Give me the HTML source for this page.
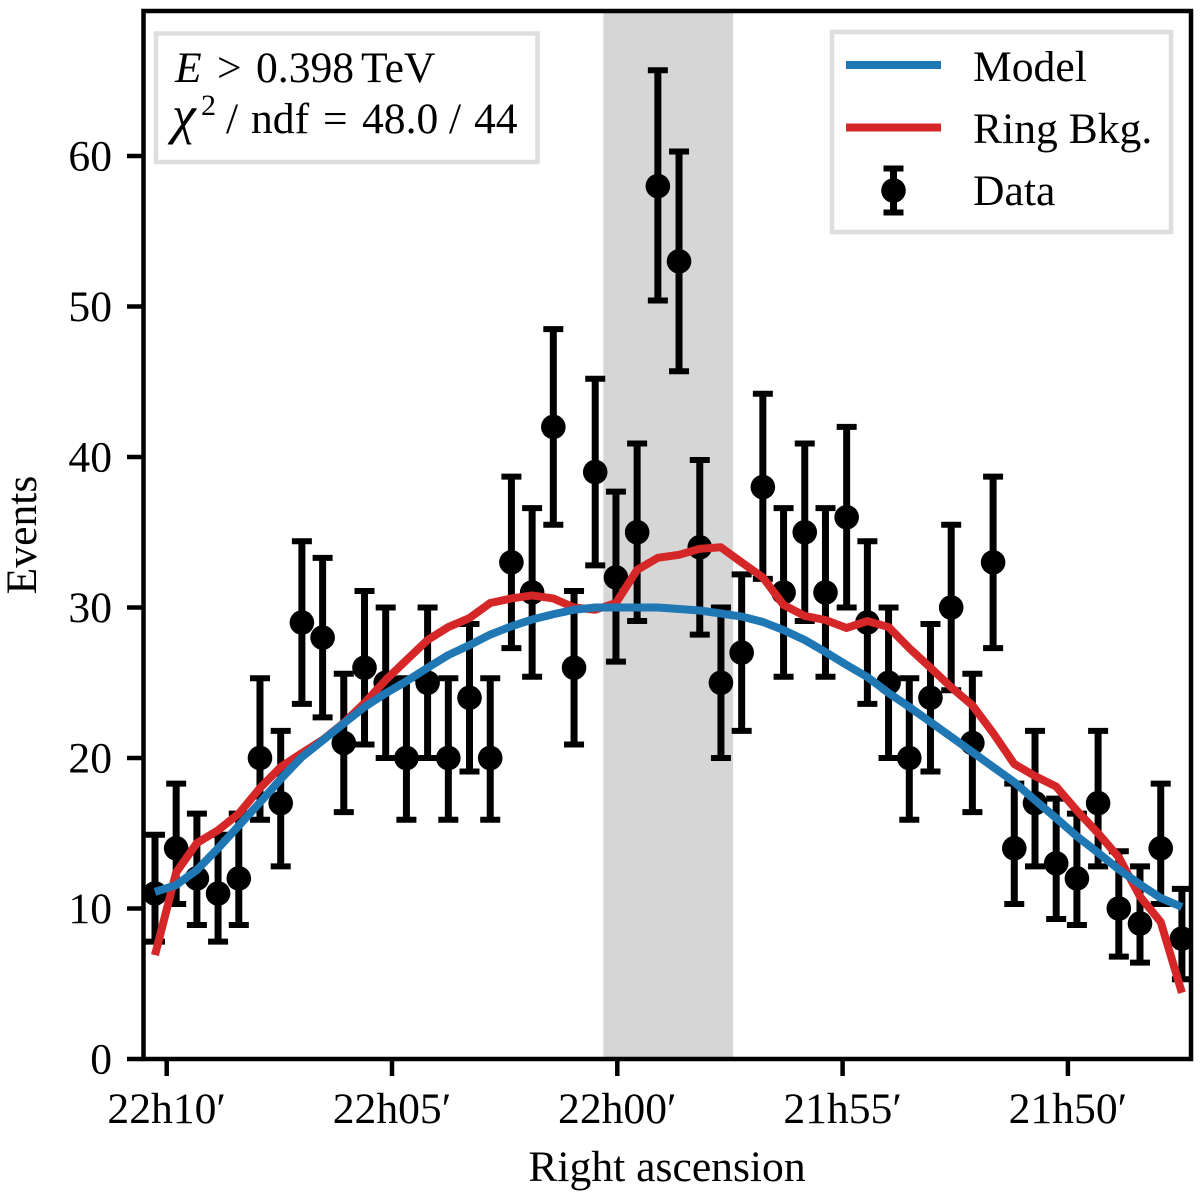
<!DOCTYPE html>
<html>
<head>
<meta charset="utf-8">
<style>
html,body{margin:0;padding:0;background:#fff;width:1200px;height:1199px;overflow:hidden}
svg{display:block}
text{font-family:"Liberation Serif",serif;font-size:43.6px;fill:#000}
</style>
</head>
<body>
<svg id="chart" xmlns="http://www.w3.org/2000/svg" width="1200" height="1199" viewBox="0 0 1200 1199">
  <defs>
    <clipPath id="plot-clip"><rect x="143.5" y="11" width="1047.5" height="1048"/></clipPath>
  </defs>
  <g id="band-layer"></g>
  <g id="marks" clip-path="url(#plot-clip)"></g>
  <g id="axes"></g>
  <rect x="143.5" y="11" width="1047.5" height="1048" fill="none" stroke="#000" stroke-width="4.500"/>

  <g>
    <rect x="156" y="33.500" width="381.500" height="128.500" fill="#fff" stroke="#dedede" stroke-width="4.500"/>
    <text y="82"><tspan x="175" font-style="italic">E</tspan><tspan x="217">&gt;</tspan><tspan x="256">0.398</tspan><tspan x="361">TeV</tspan></text>
    <text y="133"><tspan x="172" font-style="italic" font-size="54">χ</tspan><tspan x="201" dy="-18" font-size="30">2</tspan><tspan x="226" dy="18">/</tspan><tspan x="251">ndf</tspan><tspan x="323">=</tspan><tspan x="362">48.0</tspan><tspan x="449">/</tspan><tspan x="474">44</tspan></text>
  </g>

  <g>
    <rect x="832" y="32" width="339" height="200" fill="#fff" stroke="#dedede" stroke-width="4.500"/>
    <line x1="846" y1="65" x2="941" y2="65" stroke="#1f77b4" stroke-width="8"/>
    <text x="973" y="81">Model</text>
    <line x1="846" y1="127.500" x2="941" y2="127.500" stroke="#d62728" stroke-width="8"/>
    <text x="973" y="143">Ring Bkg.</text>
    <g>
      <line x1="893.500" y1="168.500" x2="893.500" y2="212.500" stroke="#000" stroke-width="7"/>
      <line x1="883.500" y1="168.500" x2="903.500" y2="168.500" stroke="#000" stroke-width="6"/>
      <line x1="883.500" y1="212.500" x2="903.500" y2="212.500" stroke="#000" stroke-width="6"/>
      <circle cx="893.500" cy="190.500" r="12.300" fill="#000"/>
    </g>
    <text x="973" y="205">Data</text>
  </g>

  <text text-anchor="middle" transform="translate(36,535) rotate(-90)">Events</text>
  <text text-anchor="middle" x="667" y="1181">Right ascension</text>
</svg>
<script>
// Bin centres in minutes of right ascension relative to 22h00'
const raBins = [10.26,9.79,9.33,8.86,8.40,7.93,7.47,7.00,6.54,6.07,5.61,5.14,4.68,4.21,3.75,3.28,2.82,2.35,1.89,1.42,0.96,0.49,0.03,-0.44,-0.90,-1.37,-1.83,-2.30,-2.76,-3.23,-3.69,-4.16,-4.62,-5.09,-5.55,-6.02,-6.48,-6.95,-7.41,-7.88,-8.34,-8.81,-9.27,-9.74,-10.20,-10.67,-11.13,-11.60,-12.06,-12.53];
const dataEvents = [11,14,12,11,12,20,17,29,28,21,26,25,20,25,20,24,20,33,31,42,26,39,32,35,58,53,34,25,27,38,31,35,31,36,29,25,20,24,30,21,33,14,17,13,12,17,10,9,14,8];
const errLow = [7.8,10.3,8.9,7.8,8.9,15.9,12.8,23.6,22.7,16.4,20.9,20,15.9,20,15.9,19.1,15.9,27.3,25.4,35.5,20.9,32.8,26.4,29.1,50.4,45.7,28.2,20,21.8,31.9,25.4,29.1,25.4,30,23.6,20,15.9,19.1,24.5,16.4,27.3,10.3,12.8,9.3,8.9,12.8,6.8,6.4,10.3,5.3];
const errHigh = [14.9,18.3,16.3,14.9,16.3,25.3,21.8,34.4,33.3,25.6,31.1,30,25.3,30,25.3,28.9,25.3,38.7,36.6,48.5,31.1,45.2,37.7,40.9,65.7,60.3,39.8,30,32.2,44.2,36.6,40.9,36.6,42,34.4,30,25.3,28.9,35.5,25.6,38.7,18.3,21.8,17.3,16.3,21.8,13.8,12.8,18.3,11.3];
const modelValues = [11.1,11.56,12.56,14.0,15.5,17.05,18.6,20.07,21.16,22.3,23.39,24.3,25.1,26.0,26.84,27.5,28.2,28.75,29.2,29.55,29.85,30.0,30.0,30.0,30.0,29.9,29.8,29.6,29.4,29.04,28.5,27.84,27.04,26.18,25.38,24.32,23.39,22.39,21.4,20.4,19.4,18.4,17.2,16.0,14.8,13.7,12.6,11.6,10.7,10.1];
const ringValues = [6.9,12.4,14.35,15.2,16.3,18.0,19.4,20.33,21.2,22.33,23.65,25.18,26.5,27.84,28.7,29.3,30.3,30.6,30.8,30.6,30.0,29.85,30.3,32.5,33.3,33.5,33.9,34.0,33.0,32.0,30.17,29.44,29.17,28.64,29.1,28.7,27.3,26.0,24.7,23.5,21.66,19.6,18.8,18.1,16.5,15.0,13.4,10.8,9.1,4.4];
const xTickValues = [10,5,0,-5,-10];
const xTickLabels = ["22h10′","22h05′","22h00′","21h55′","21h50′"];
const yTickValues = [0,10,20,30,40,50,60];
const signalRegion = [0.31,-2.57];

const NS = "http://www.w3.org/2000/svg";
function xScale(ra){ return 617.3 - 45.06 * ra; }
function yScale(v){ return 1059 - 15.05 * v; }
function make(tag, attrs, parent){
  const el = document.createElementNS(NS, tag);
  for (const k in attrs) el.setAttribute(k, attrs[k]);
  parent.appendChild(el);
  return el;
}
const bandLayer = document.getElementById('band-layer');
const marks = document.getElementById('marks');
const axes = document.getElementById('axes');

const band = make('rect', {x:xScale(signalRegion[0]), y:yScale(69.64), width:xScale(signalRegion[1])-xScale(signalRegion[0]), height:yScale(0)-yScale(69.64), fill:'#d6d6d6'}, bandLayer);



raBins.forEach(function(ra, i){
  const x = xScale(ra);
  const g = make('g', {}, marks);
  
  
  make('line', {x1:x, x2:x, y1:yScale(errLow[i]), y2:yScale(errHigh[i]), stroke:'#000', 'stroke-width':7}, g);
  make('line', {x1:x-10, x2:x+10, y1:yScale(errLow[i]), y2:yScale(errLow[i]), stroke:'#000', 'stroke-width':6}, g);
  make('line', {x1:x-10, x2:x+10, y1:yScale(errHigh[i]), y2:yScale(errHigh[i]), stroke:'#000', 'stroke-width':6}, g);
  make('circle', {cx:x, cy:yScale(dataEvents[i]), r:12.3, fill:'#000'}, g);
});

function pathFor(values){
  return values.map(function(v, i){ return (i ? 'L' : 'M') + xScale(raBins[i]).toFixed(2) + ' ' + yScale(v).toFixed(2); }).join(' ');
}
const ringLine = make('path', {d:pathFor(ringValues), fill:'none', stroke:'#d62728', 'stroke-width':8, 'stroke-linejoin':'round'}, marks);


const modelLine = make('path', {d:pathFor(modelValues), fill:'none', stroke:'#1f77b4', 'stroke-width':8, 'stroke-linejoin':'round'}, marks);



xTickValues.forEach(function(t, i){
  const x = xScale(t);
  const tick = make('line', {x1:x, x2:x, y1:1059, y2:1076, stroke:'#000', 'stroke-width':4.5}, axes);
  
  
  const label = make('text', {x:x, y:1123, 'text-anchor':'middle'}, axes);
  
  
  label.textContent = xTickLabels[i];
});
yTickValues.forEach(function(t){
  const y = yScale(t);
  const tick = make('line', {x1:127, x2:143.5, y1:y, y2:y, stroke:'#000', 'stroke-width':4.5}, axes);
  
  
  const label = make('text', {x:112, y:y+14.5, 'text-anchor':'end'}, axes);
  
  
  label.textContent = String(t);
});
</script>
</body>
</html>
